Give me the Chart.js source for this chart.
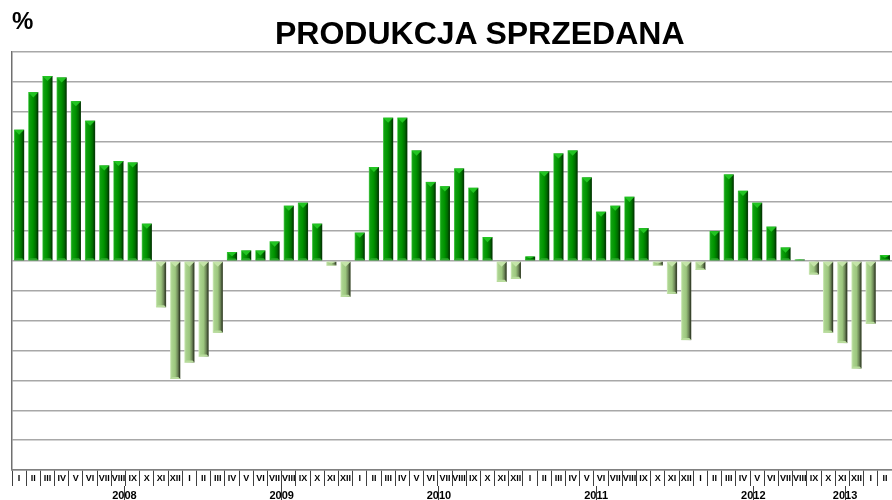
<!DOCTYPE html>
<html>
<head>
<meta charset="utf-8">
<script src="https://cdn.jsdelivr.net/npm/chart.js@4/dist/chart.umd.min.js"></script>
<style>
    body { margin: 0; background: #fff; }
    #wrap { position: relative; width: 892px; height: 500px; }
    .txt { position: absolute; font-family: 'Liberation Sans', Arial, sans-serif; font-weight: bold; line-height: 1; color: #000; white-space: nowrap; }
    #pct { left: 12px; top: 9px; font-size: 24px; }
    #title { left: 275px; top: 17px; font-size: 32px; }
</style>
</head>
<body>
<div id="wrap">
    <canvas id="chart" width="892" height="500"></canvas>
    <div class="txt" id="pct">%</div>
    <div class="txt" id="title">PRODUKCJA SPRZEDANA</div>
</div>
<script>
// month labels (roman numerals) and years
const months = ['I', 'II', 'III', 'IV', 'V', 'VI', 'VII', 'VIII', 'IX', 'X', 'XI', 'XII'];
const years = ['2008', '2009', '2010', '2011', '2012', '2013'];

// values, % change y/y
const values2008 = [8.8, 11.3, 12.4, 12.3, 10.7, 9.4, 6.4, 6.7, 6.6, 2.5, -3.1, -7.9];
const values2009 = [-6.8, -6.4, -4.8, 0.6, 0.7, 0.7, 1.3, 3.7, 3.9, 2.5, -0.3, -2.4];
const values2010 = [1.9, 6.3, 9.6, 9.6, 7.4, 5.3, 5.0, 6.2, 4.9, 1.6, -1.4, -1.2];
const values2011 = [0.3, 6.0, 7.2, 7.4, 5.6, 3.3, 3.7, 4.3, 2.2, -0.3, -2.2, -5.3];
const values2012 = [-0.6, 2.0, 5.8, 4.7, 3.9, 2.3, 0.9, 0.1, -0.9, -4.8, -5.5, -7.2];
const values2013 = [-4.2, 0.4];

const yearValues = [values2008, values2009, values2010, values2011, values2012, values2013];
const values = [].concat.apply([], yearValues);
const labels = [];
yearValues.forEach(function(arr) {
    arr.forEach(function(v, i) { labels.push(months[i]); });
});

// year band positions on the index axis: boundaries and centres
const yearBounds = [];
const yearCentres = [];
let start = 0;
yearValues.forEach(function(arr) {
    yearBounds.push(start - 0.5);
    yearCentres.push(start + (arr.length - 1) / 2);
    start += arr.length;
});
yearBounds.push(start - 0.5);

const BAR_PCT = 0.72;
const FONT = "'Liberation Sans', Arial, sans-serif";

function isBound(c) {
    return !!(c.tick && yearBounds.indexOf(c.tick.value) >= 0);
}

// horizontal gradient to give the bars a rounded look
function barFill(context) {
    const chart = context.chart;
    const v = context.raw;
    const xs = chart.scales.x;
    if (!xs || !chart.chartArea) {
        return v >= 0 ? '#009000' : '#9cc67c';
    }
    const cx = xs.getPixelForValue(context.dataIndex);
    const w = xs.width / labels.length * BAR_PCT;
    const g = chart.ctx.createLinearGradient(cx - w / 2, 0, cx + w / 2, 0);
    if (v >= 0) {
        g.addColorStop(0, '#5ed65e');
        g.addColorStop(0.12, '#10a010');
        g.addColorStop(0.45, '#009400');
        g.addColorStop(0.75, '#006a00');
        g.addColorStop(0.92, '#003c00');
        g.addColorStop(1, '#1c4a1c');
    } else {
        g.addColorStop(0, '#d4edc0');
        g.addColorStop(0.15, '#acd490');
        g.addColorStop(0.5, '#9cc67e');
        g.addColorStop(0.75, '#6e8858');
        g.addColorStop(0.92, '#38442c');
        g.addColorStop(1, '#4c5a3c');
    }
    return g;
}

// bevelled caps on the bar ends
const bevelPlugin = {
    id: 'bevel',
    afterDatasetsDraw(chart) {
        const ctx = chart.ctx;
        const meta = chart.getDatasetMeta(0);
        ctx.save();
        meta.data.forEach(function(bar, i) {
            const v = values[i];
            const w = bar.width;
            const h = Math.abs(bar.base - bar.y);
            const cap = Math.min(w / 2, h / 2);
            const top = Math.min(bar.y, bar.base);
            const bottom = Math.max(bar.y, bar.base);
            const l = bar.x - w / 2, r = bar.x + w / 2;
            ctx.fillStyle = v >= 0 ? '#22c422' : '#c4e4a8';
            ctx.beginPath();
            ctx.moveTo(l, top);
            ctx.lineTo(r, top);
            ctx.lineTo(bar.x, top + cap);
            ctx.closePath();
            ctx.fill();
            ctx.fillStyle = v >= 0 ? '#2aa82a' : '#b8dc9c';
            ctx.beginPath();
            ctx.moveTo(l, bottom);
            ctx.lineTo(r, bottom);
            ctx.lineTo(r - cap * 0.4, bottom - cap * 0.4);
            ctx.lineTo(l + cap * 0.4, bottom - cap * 0.4);
            ctx.closePath();
            ctx.fill();
        });
        ctx.restore();
    }
};

new Chart(document.getElementById('chart').getContext('2d'), {
    type: 'bar',
    data: {
        labels: labels,
        datasets: [{
            data: values,
            backgroundColor: barFill,
            borderWidth: 0,
            barPercentage: BAR_PCT,
            categoryPercentage: 1
        }]
    },
    plugins: [bevelPlugin],
    options: {
        responsive: false,
        animation: false,
        layout: {
            padding: { left: 12, top: 52, right: 0, bottom: 0 }
        },
        plugins: {
            legend: { display: false },
            tooltip: { enabled: false }
        },
        scales: {
            y: {
                min: -14,
                max: 14,
                ticks: { display: false, stepSize: 2 },
                grid: { color: '#a8a8a8', lineWidth: 1.5, drawTicks: false },
                border: { display: true, color: '#707070', width: 1.5 },
                afterFit: function(scale) { scale.width = 0; }
            },
            x: {
                position: 'bottom',
                offset: true,
                grid: {
                    offset: true,
                    drawOnChartArea: false,
                    color: '#404040',
                    lineWidth: 1,
                    tickLength: 16
                },
                border: { display: true, color: '#808080', width: 1.5 },
                ticks: {
                    autoSkip: false,
                    maxRotation: 0,
                    minRotation: 0,
                    padding: -13,
                    color: '#000',
                    font: { family: FONT, size: 9, weight: 'bold' }
                },
                afterFit: function(scale) { scale.height = 16; }
            },
            x2: {
                type: 'linear',
                position: 'bottom',
                min: -0.5,
                max: labels.length - 0.5,
                afterBuildTicks: function(scale) {
                    scale.ticks = yearBounds.concat(yearCentres).map(function(v) { return { value: v }; });
                },
                grid: {
                    drawOnChartArea: false,
                    tickLength: 14,
                    lineWidth: function(c) { return isBound(c) ? 1 : 0; },
                    color: function(c) { return isBound(c) ? '#404040' : 'rgba(0,0,0,0)'; },
                    tickColor: function(c) { return isBound(c) ? '#404040' : 'rgba(0,0,0,0)'; }
                },
                border: { display: false },
                ticks: {
                    autoSkip: false,
                    maxRotation: 0,
                    minRotation: 0,
                    padding: -11,
                    color: '#000',
                    font: { family: FONT, size: 11, weight: 'bold' },
                    callback: function(value) {
                        const k = yearCentres.indexOf(value);
                        return k >= 0 ? years[k] : '';
                    }
                },
                afterFit: function(scale) { scale.height = 14; }
            }
        }
    }
});
</script>
</body>
</html>
